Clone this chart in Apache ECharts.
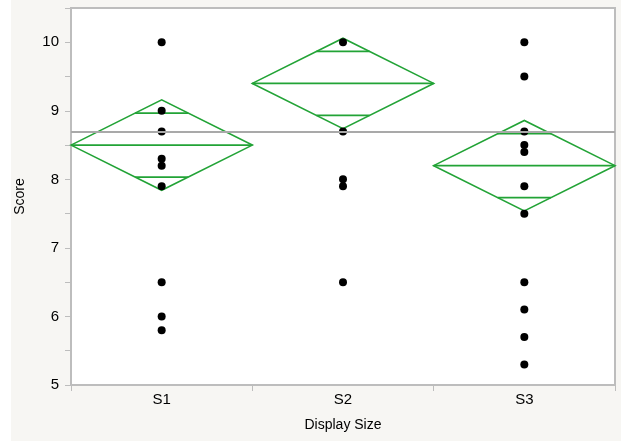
<!DOCTYPE html>
<html>
<head>
<meta charset="utf-8">
<script src="https://cdn.jsdelivr.net/npm/echarts@6/dist/echarts.min.js"></script>
<style>
html,body{margin:0;padding:0;background:#ffffff;}
#chart{width:621px;height:441px;}
</style>
</head>
<body>
<div id="chart"></div>
<script>
// ---- data ----
const categories = ['S1', 'S2', 'S3'];
const scoresS1 = [10, 9, 8.7, 8.3, 8.2, 7.9, 6.5, 6.0, 5.8];
const scoresS2 = [10, 8.7, 8.0, 7.9, 6.5];
const scoresS3 = [10, 9.5, 8.7, 8.5, 8.4, 7.9, 7.5, 6.5, 6.1, 5.7, 5.3];
const groupMeans = [8.5, 9.4, 8.2];
const groupCI = [0.66, 0.66, 0.66];
const grandMean = 8.7;
const yTicks = [5, 6, 7, 8, 9, 10];

const pointData = [];
[scoresS1, scoresS2, scoresS3].forEach((arr, i) => arr.forEach(v => pointData.push([i, v])));
const diamondData = categories.map((c, i) => [i, groupMeans[i], groupCI[i]]);

const green = '#22a336';
const chart = echarts.init(document.getElementById('chart'), null, {renderer: 'canvas'});
const font = 'Liberation Sans, Arial, Helvetica, sans-serif';

chart.setOption({
  backgroundColor: '#f7f6f3',
  animation: false,
  textStyle: {fontFamily: font},
  graphic: [{type: 'rect', left: 0, top: 0, shape: {width: 11, height: 441}, style: {fill: '#ffffff'}, silent: true}],
  grid: {left: 71, right: 6, top: 8, bottom: 56, show: true, backgroundColor: '#ffffff', borderColor: '#bdbdbd', borderWidth: 2},
  xAxis: {
    type: 'category',
    data: categories,
    boundaryGap: true,
    name: 'Display Size',
    nameLocation: 'middle',
    nameGap: 33,
    nameTextStyle: {fontSize: 14, color: '#000000', fontFamily: font},
    axisLine: {show: true, lineStyle: {color: '#bdbdbd', width: 2}},
    axisTick: {show: true, length: 6, lineStyle: {color: '#bdbdbd'}},
    axisLabel: {fontSize: 15, color: '#000000', margin: 7, fontFamily: font},
    splitLine: {show: false}
  },
  yAxis: {
    type: 'value',
    min: 5, max: 10.5, interval: 1,
    name: 'Score',
    nameLocation: 'middle',
    nameGap: 44,
    nameRotate: 90,
    nameTextStyle: {fontSize: 14, color: '#000000', fontFamily: font},
    axisLine: {show: true, lineStyle: {color: '#bdbdbd', width: 2}},
    axisTick: {show: true, length: 6, lineStyle: {color: '#bdbdbd'}},
    minorTick: {show: true, splitNumber: 2, length: 6, lineStyle: {color: '#bdbdbd'}},
    axisLabel: {fontSize: 15, color: '#000000', margin: 12, fontFamily: font, showMaxLabel: false,
      formatter: v => yTicks.includes(v) ? String(v) : ''},
    splitLine: {show: false}
  },
  series: [
    {
      type: 'line', data: [], z: 1,
      markLine: {
        silent: true, symbol: 'none', label: {show: false},
        lineStyle: {color: '#a9a9a9', width: 2, type: 'solid'},
        data: [{yAxis: grandMean}]
      }
    },
    {
      type: 'custom', z: 2,
      data: diamondData,
      renderItem: function (params, api) {
        const c = api.value(0), m = api.value(1), ci = api.value(2);
        const w = api.size([1, 0])[0];
        const hw = w / 2;
        const ctr = api.coord([c, m]);
        const top = api.coord([c, m + ci]);
        const bot = api.coord([c, m - ci]);
        const d = ci / Math.SQRT2;
        const ow = hw * (1 - d / ci);
        const yu = api.coord([c, m + d])[1];
        const yl = api.coord([c, m - d])[1];
        const st = {stroke: green, lineWidth: 1.6, fill: null};
        return {
          type: 'group',
          children: [
            {type: 'polygon', shape: {points: [[ctr[0] - hw, ctr[1]], [top[0], top[1]], [ctr[0] + hw, ctr[1]], [bot[0], bot[1]]]}, style: st},
            {type: 'line', shape: {x1: ctr[0] - hw, y1: ctr[1], x2: ctr[0] + hw, y2: ctr[1]}, style: st},
            {type: 'line', shape: {x1: ctr[0] - ow, y1: yu, x2: ctr[0] + ow, y2: yu}, style: st},
            {type: 'line', shape: {x1: ctr[0] - ow, y1: yl, x2: ctr[0] + ow, y2: yl}, style: st}
          ]
        };
      }
    },
    {
      type: 'scatter', z: 3,
      data: pointData,
      symbol: 'circle', symbolSize: 8,
      itemStyle: {color: '#000000', opacity: 1}
    }
  ]
});
</script>
</body>
</html>
